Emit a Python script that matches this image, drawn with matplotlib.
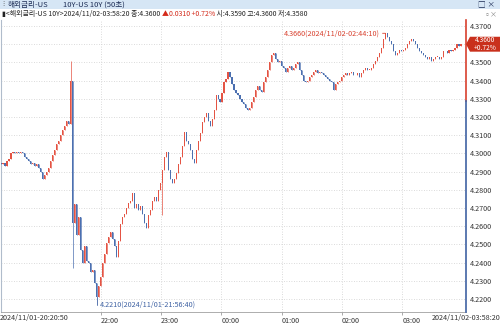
import matplotlib
matplotlib.use("Agg")
import matplotlib.pyplot as plt
import matplotlib.transforms as mtransforms
from matplotlib.patches import Rectangle, Polygon
import numpy as np

plt.rcParams['font.family'] = ['Noto Sans CJK KR', 'DejaVu Sans']

# closes of the 10Y bars (left -> right)
closes = [
    4.294, 4.295, 4.293, 4.296, 4.297, 4.300, 4.301, 4.300, 4.301, 4.300,
    4.301, 4.300, 4.298, 4.297, 4.296, 4.294, 4.295, 4.293, 4.294, 4.292,
    4.290, 4.286, 4.288, 4.290, 4.292, 4.296, 4.299, 4.302, 4.305, 4.307,
    4.310, 4.313, 4.315, 4.318, 4.316, 4.340, 4.262, 4.272, 4.255, 4.265,
    4.247, 4.240, 4.249, 4.241, 4.240, 4.235, 4.236, 4.229, 4.221, 4.227,
    4.232, 4.240, 4.245, 4.251, 4.254, 4.257, 4.253, 4.249, 4.243, 4.252,
    4.261, 4.265, 4.267, 4.270, 4.273, 4.274, 4.278, 4.270, 4.272, 4.269,
    4.271, 4.267, 4.262, 4.259, 4.266, 4.269, 4.274, 4.276, 4.274, 4.280,
    4.284, 4.291, 4.298, 4.301, 4.291, 4.286, 4.284, 4.286, 4.289, 4.294,
    4.298, 4.304, 4.312, 4.307, 4.305, 4.302, 4.297, 4.295, 4.302, 4.307,
    4.311, 4.317, 4.320, 4.322, 4.318, 4.315, 4.319, 4.324, 4.332, 4.330,
    4.328, 4.333, 4.339, 4.341, 4.345, 4.342, 4.338, 4.335, 4.333, 4.332,
    4.330, 4.328, 4.327, 4.325, 4.324, 4.325, 4.328, 4.331, 4.335, 4.337,
    4.335, 4.334, 4.339, 4.342, 4.346, 4.350, 4.354, 4.355, 4.352, 4.350,
    4.351, 4.348, 4.347, 4.345, 4.347, 4.348, 4.346, 4.347, 4.349, 4.350,
    4.346, 4.343, 4.340, 4.339, 4.340, 4.342, 4.343, 4.345, 4.346, 4.344,
    4.345, 4.344, 4.343, 4.342, 4.341, 4.340, 4.339, 4.335, 4.338, 4.339,
    4.340, 4.342, 4.343, 4.344, 4.343, 4.344, 4.345, 4.343, 4.343, 4.344,
    4.342, 4.344, 4.346, 4.347, 4.346, 4.346, 4.347, 4.349, 4.351, 4.353,
    4.355, 4.358, 4.363, 4.366, 4.364, 4.362, 4.360, 4.356, 4.354, 4.355,
    4.357, 4.356, 4.357, 4.358, 4.360, 4.362, 4.363, 4.362, 4.360, 4.358,
    4.356, 4.355, 4.354, 4.353, 4.352, 4.353, 4.351, 4.352, 4.353, 4.353,
    4.352, 4.353, 4.356, 4.356, 4.355, 4.357, 4.356, 4.357, 4.358, 4.360,
    4.359, 4.360,
]
first_open = 4.295
# wicks that stick out past the bodies
wick_hi = {35: 4.351, 193: 4.366}
wick_lo = {36: 4.237, 48: 4.221, 81: 4.266}

prev_close = 4.329
span_min = 457.5  # 20:20:50 -> 03:58:20
start_label = "2024/11/01-20:20:50"
end_label = "2024/11/02-03:58:20"
hour_labels = ["22:00", "23:00", "00:00", "01:00", "02:00", "03:00"]
hour_min = [99.17, 159.17, 219.17, 279.17, 339.17, 399.17]
hi_time = "2024/11/02-02:44:10"
lo_time = "2024/11/01-21:56:40"
yticks = [4.22, 4.23, 4.24, 4.25, 4.26, 4.27, 4.28, 4.29,
          4.30, 4.31, 4.32, 4.33, 4.34, 4.35, 4.36, 4.37]

RED = '#e45444'
BLUE = '#4c70b0'
GRID = '#cfcfcf'

n = len(closes)
t = np.linspace(0, span_min, n)
c = np.array(closes)
o = np.array([first_open] + closes[:-1])
hi = np.maximum(o, c)
lo = np.minimum(o, c)
for k, v in wick_hi.items():
    hi[k] = v
for k, v in wick_lo.items():
    lo[k] = v

W, H = 500, 324
fig = plt.figure(figsize=(W / 100, H / 100), dpi=100)

# header bar
fig.patches.append(Rectangle((0, 1 - 9 / H), 1, 9 / H, transform=fig.transFigure,
                             facecolor='#d6e6f5', edgecolor='none'))
fig.text(2 / W, 1 - 4.5 / H, '⁝', fontsize=5, color='#555', va='center')
fig.text(8 / W, 1 - 4.5 / H, '해외금리-US', fontsize=5.5, color='#1c2c55', va='center')
fig.text(63 / W, 1 - 4.5 / H, '10Y-US 10Y (50초)', fontsize=5.5, color='#1c2c55', va='center')
fig.text(495 / W, 1 - 4.5 / H, '□ ×', fontsize=5.5, color='#1c2c55', va='center', ha='right')
fig.text(497 / W, 1 - 14 / H, '▫×', fontsize=5, color='#888', va='center', ha='right')

# info line, pieces laid end to end
renderer = fig.canvas.get_renderer()
x = 2
pieces = [
    ('▮<해외금리-US 10Y>' + end_label + ' 종:%.4f ' % c[-1], '#222'),
    ('▲%.4f +0.72%%' % (c[-1] - prev_close), '#d42a1a'),
    (' 시:%.4f 고:%.4f 저:%.4f' % (4.3590, 4.3600, 4.3580), '#222'),
]
for txt, col in pieces:
    tt = fig.text(x / W, 1 - 14 / H, txt, fontsize=5.0, color=col, va='center')
    x += tt.get_window_extent(renderer).width

ax = fig.add_axes([1 / W, 12 / H, 465 / W, 292 / H])
ax.set_xlim(0, 465 * span_min / 460)
ax.set_ylim(4.2129, 4.3733)

# candles
up = c >= o
cols = np.where(up, RED, BLUE)
ax.vlines(t, lo, hi, colors=cols, lw=0.5, zorder=3)
ax.bar(t, np.maximum(np.abs(c - o), 0.0003), bottom=np.minimum(o, c),
       width=1.1, color=cols, edgecolor='none', zorder=3)

# grid
for yv in yticks:
    ax.axhline(yv, color=GRID, lw=0.6, ls=(0, (1, 2)), zorder=1)
for xv in hour_min:
    ax.axvline(xv, color=GRID, lw=0.6, ls=(0, (1, 2)), zorder=1)

for s in ['top', 'right']:
    ax.spines[s].set_visible(False)
ax.spines['left'].set_color('#b0bccb')
ax.spines['left'].set_linewidth(0.8)
ax.spines['bottom'].set_color('#a0a0a0')
ax.spines['bottom'].set_linewidth(0.6)

# right price scale line: red above previous close, blue below
xr = ax.get_xlim()[1]
ax.plot([xr, xr], [prev_close, 4.3733], color='#d8402e', lw=1.2, clip_on=False, zorder=5)
ax.plot([xr, xr], [4.2129, prev_close], color='#3f62a3', lw=1.2, clip_on=False, zorder=5)

last = c[-1]
ax.yaxis.tick_right()
ax.set_yticks(yticks)
# the last-price tag sits on top of its own level label
ax.set_yticklabels(['' if abs(v - last) < 1e-9 else '%.4f' % v for v in yticks])
ax.tick_params(axis='y', length=0, pad=2.5, labelsize=5.2, labelcolor='#333')

ax.set_xticks(hour_min)
ax.set_xticklabels(hour_labels)
ax.tick_params(axis='x', length=2, width=0.5, color='#888', pad=1.5,
               labelsize=5.2, labelcolor='#333')
for lab in ax.get_xticklabels():
    lab.set_horizontalalignment('left')
fig.text(0 / W, 6 / H, start_label, fontsize=5.2, color='#333', va='center')
fig.text(500 / W, 6 / H, end_label, fontsize=5.2, color='#333', va='center', ha='right')

# high / low markers
ih = int(np.argmax(hi))
il = int(np.argmin(lo))
ax.annotate('%.4f(%s)' % (hi[ih], hi_time), xy=(t[ih], hi[ih]), xytext=(-4, 0),
            textcoords='offset points', ha='right', va='center', fontsize=5.2,
            color='#d8402e',
            arrowprops=dict(arrowstyle='-', color='#d8402e', lw=0.6, shrinkA=0, shrinkB=0))
ax.annotate('%.4f(%s)' % (lo[il], lo_time), xy=(t[il], lo[il]), xytext=(2.5, -5.5),
            textcoords='offset points', ha='left', va='center', fontsize=5.2,
            color='#3f62a3',
            arrowprops=dict(arrowstyle='-', color='#3f62a3', lw=0.6, shrinkA=0, shrinkB=0,
                            connectionstyle='angle,angleA=0,angleB=90,rad=0'))

# last price tag
tr = mtransforms.blended_transform_factory(ax.transAxes, ax.transData)
hpx = 0.0082 / 2
x1 = 1 + 4 / 465
x2 = 1 + 34 / 465
tag = Polygon([(1.0, last), (x1, last + hpx), (x2, last + hpx), (x2, last - hpx), (x1, last - hpx)],
              closed=True, transform=tr, facecolor='#c9301c', edgecolor='none',
              clip_on=False, zorder=6)
ax.add_patch(tag)
pct = (last - prev_close) / prev_close * 100
ax.text(1 + 19 / 465, last, '%.4f\n%+.2f%%' % (last, pct), transform=tr, ha='center',
        va='center', fontsize=4.8, color='white', linespacing=0.95, zorder=7, clip_on=False)

fig.savefig('out.png', dpi=100)
